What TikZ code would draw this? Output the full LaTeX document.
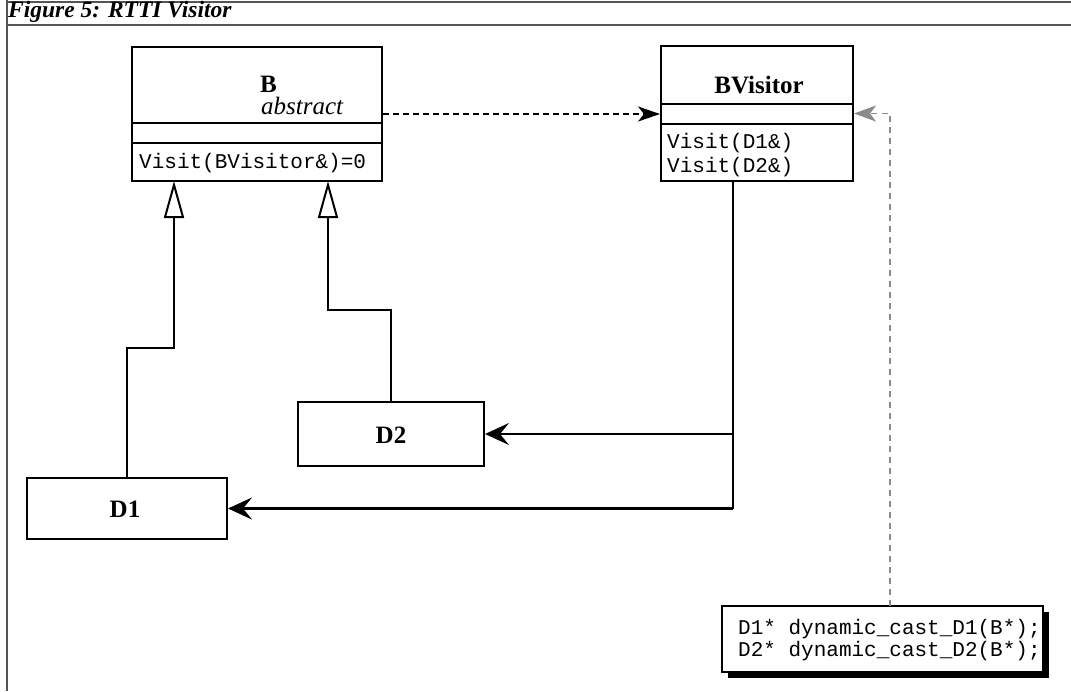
\documentclass[tikz,border=0pt]{standalone}
\usepackage{fontspec}
\setmainfont{Liberation Serif}
\setmonofont{Liberation Mono}
\usetikzlibrary{arrows.meta,shadows}

\definecolor{framegray}{HTML}{555555}
\definecolor{linkgray}{HTML}{8A8A8A}

\begin{document}
\begin{tikzpicture}[x=1pt,y=-1pt,
  classbox/.style={draw, line width=2pt, inner sep=0pt, fill=white},
  sepline/.style={line width=2pt},
  label/.style={font=\fontsize{25}{28}\selectfont\bfseries, inner sep=0pt},
  code/.style={font=\fontsize{21}{24}\selectfont\ttfamily, inner sep=0pt, anchor=base west},
  inherit/.style={line width=2pt, -{Triangle[open, length=37pt, width=20pt]}},
  depend/.style={line width=2pt, dash pattern=on 6pt off 4pt,
                 -{Stealth[length=22pt, width=15pt, inset=6pt]}},
  usesline/.style={line width=1.5pt, linkgray, dash pattern=on 6pt off 5pt,
                 -{Stealth[length=22pt, width=16pt, inset=6pt]}},
  callarrow/.style={-{Stealth[length=24pt, width=22pt, inset=9pt]}}
]
\useasboundingbox (0,0) rectangle (1071,691);

% figure frame and caption
\draw[framegray, line width=2pt] (7,0) -- (7,691);
\draw[framegray, line width=2pt] (7,1.5) -- (1071,1.5);
\draw[framegray, line width=2pt] (7,25) -- (1071,25);
\node[anchor=base west, inner sep=0pt,
      font=\fontsize{23.5}{26}\selectfont\bfseries\itshape] (title) at (8,17) {Figure 5: RTTI Visitor};

% class B
\node[classbox, minimum width=250, minimum height=134] (B) at (257,114) {};
\draw[sepline] (B.west |- 0,123) -- (B.east |- 0,123);
\draw[sepline] (B.west |- 0,143) -- (B.east |- 0,143);
% name and stereotype; the base anchor sits on the last line
\node[anchor=base west, inner sep=0pt, align=left,
      font=\fontsize{25}{28}\selectfont] (Bname) at (260,114)
      {\textbf{B}\\[-6pt]\hspace*{1pt}\textit{abstract}};
\node[code] (Bop) at (139,168) {Visit(BVisitor\&)=0};

% class BVisitor
\node[classbox, minimum width=192, minimum height=135] (BV) at (757,113.5) {};
\draw[sepline] (BV.west |- 0,104) -- (BV.east |- 0,104);
\draw[sepline] (BV.west |- 0,124) -- (BV.east |- 0,124);
\node[label, anchor=base] (BVname) at (759,93) {BVisitor};
\node[code] (BVop1) at (667,148) {Visit(D1\&)};
\node[code] (BVop2) at (667,172) {Visit(D2\&)};

% derived classes
\node[classbox, minimum width=200, minimum height=61] (D1) at (127,508.5) {};
\node[label] (D1name) at (125,509) {D1};
\node[classbox, minimum width=186, minimum height=64] (D2) at (391,434) {};
\node[label] (D2name) at (391,435) {D2};

% helper functions note
\node[classbox, minimum width=321, minimum height=66,
      drop shadow={shadow xshift=6pt, shadow yshift=-6pt, fill=black, opacity=1}]
      (note) at (882.5,639) {};
\node[code] (note1) at (738,634) {D1* dynamic\_cast\_D1(B*);};
\node[code] (note2) at (738,656) {D2* dynamic\_cast\_D2(B*);};

% attachment points
\coordinate (b1) at (174,181);
\coordinate (b2) at (328,181);
\coordinate (bvs) at (733,181);
\coordinate (nt) at (890,606);

% generalisation
\draw[inherit] (D1.north) -- (D1.north |- 0,348) -| (b1);
\draw[inherit] (D2.north |- 0,402) -- (391,310) -| (b2);

% dependency B -> BVisitor
\draw[depend] (B.east) -- (B.east -| BV.west);

% BVisitor visits D1 and D2
\draw[line width=2pt] (bvs) -- (bvs |- D1.east);
\draw[line width=3pt, callarrow] (bvs |- D1.east) -- (D1.east);
\draw[line width=1.2pt, callarrow] (bvs |- D2.east) -- (D2.east);

% note link to BVisitor
\draw[usesline] (nt) |- (BV.east);
\end{tikzpicture}
\end{document}
